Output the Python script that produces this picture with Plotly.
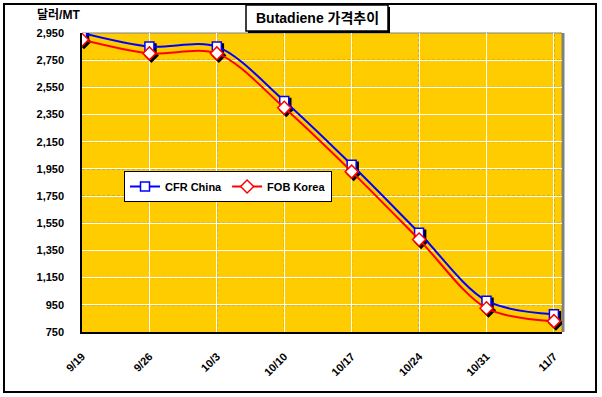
import plotly.graph_objects as go

dates = ["9/19", "9/26", "10/3", "10/10", "10/17", "10/24", "10/31", "11/7"]
cfr_china = [2950, 2850, 2850, 2450, 1980, 1480, 980, 880]
fob_korea = [2900, 2800, 2800, 2400, 1930, 1430, 925, 830]
y_ticks = list(range(750, 2951, 200))

W, H = 602, 397
L, R, T, B = 82, 562, 33, 332  # plot area in pixels
XR = [0, 7.12]
YR = [750, 2950]


def px(x):
    return (x - L) / (R - L)


def py(y):
    return (B - y) / (B - T)


FONT = "Liberation Sans, Arial, Noto Sans CJK KR"
xs = list(range(len(dates)))

# shadow offset (2px right, 2px down) expressed as range shift
dx = 2 / (R - L) * (XR[1] - XR[0])
dy = 2 / (B - T) * (YR[1] - YR[0])

fig = go.Figure()
# marker shadows
fig.add_trace(go.Scatter(
    x=xs, y=cfr_china, mode="markers", showlegend=False, hoverinfo="skip",
    xaxis="x2", yaxis="y2",
    marker=dict(symbol="square", size=9, color="black", line=dict(color="black", width=1.5)),
))
fig.add_trace(go.Scatter(
    x=xs, y=fob_korea, mode="markers", showlegend=False, hoverinfo="skip",
    xaxis="x2", yaxis="y2",
    marker=dict(symbol="diamond", size=10, color="black", line=dict(color="black", width=1.5)),
))
# main series
fig.add_trace(go.Scatter(
    x=xs, y=cfr_china, name="CFR China", mode="lines+markers", xaxis="x3", yaxis="y3",
    line=dict(color="rgb(0,0,255)", width=2, shape="spline", smoothing=0.9),
    marker=dict(symbol="square", size=9, color="white", line=dict(color="rgb(0,0,255)", width=1.5)),
))
fig.add_trace(go.Scatter(
    x=xs, y=fob_korea, name="FOB Korea", mode="lines+markers", xaxis="x3", yaxis="y3",
    line=dict(color="rgb(255,0,0)", width=2, shape="spline", smoothing=0.9),
    marker=dict(symbol="diamond", size=10, color="white", line=dict(color="rgb(255,0,0)", width=1.5)),
))

hidden = dict(visible=False, showgrid=False, zeroline=False, automargin=False)

fig.update_layout(
    width=W, height=H,
    margin=dict(l=L, r=W - R, t=T, b=H - B, autoexpand=False),
    paper_bgcolor="white",
    plot_bgcolor="rgb(255,204,0)",
    font=dict(family=FONT, size=11, color="black"),
    showlegend=True,
    legend=dict(
        orientation="h", x=px(124), y=py(171), xanchor="left", yanchor="top",
        bgcolor="white", bordercolor="black", borderwidth=1,
        font=dict(family=FONT, size=11, color="black", weight="bold"),
        itemwidth=30, tracegroupgap=0,
    ),
    xaxis=dict(
        range=XR, tickmode="array", tickvals=xs, ticktext=dates,
        tickangle=-45, showgrid=True, gridcolor="white", gridwidth=1,
        showline=True, linecolor="black", linewidth=1.5, ticks="", zeroline=False, automargin=False,
        tickfont=dict(family=FONT, size=11, weight="bold"), ticklabelstandoff=12,
    ),
    yaxis=dict(
        range=YR, tickmode="array", tickvals=y_ticks,
        ticktext=[f"{v:,}" for v in y_ticks],
        showgrid=True, gridcolor="white", gridwidth=1,
        showline=True, linecolor="black", linewidth=1.5, ticks="", zeroline=False, automargin=False,
        tickfont=dict(family=FONT, size=11, weight="bold"), ticklabelstandoff=14,
    ),
    xaxis2=dict(overlaying="x", anchor="y2", range=[XR[0] - dx, XR[1] - dx], **hidden),
    yaxis2=dict(overlaying="y", anchor="x2", range=[YR[0] + dy, YR[1] + dy], **hidden),
    xaxis3=dict(overlaying="x", anchor="y3", range=XR, **hidden),
    yaxis3=dict(overlaying="y", anchor="x3", range=YR, **hidden),
)

shapes = [
    # outer frame
    dict(type="rect", xref="paper", yref="paper", x0=px(4), x1=px(596), y0=py(392), y1=py(4),
         line=dict(color="black", width=2), layer="below"),
    # plot area top / right gray edges
    dict(type="line", xref="paper", yref="paper", x0=0, x1=1, y0=1, y1=1,
         line=dict(color="rgb(128,128,128)", width=1), layer="between"),
    dict(type="line", xref="paper", yref="paper", x0=px(563), x1=px(563), y0=0, y1=1,
         line=dict(color="rgb(128,128,128)", width=3), layer="below"),
    # title box shadow
    dict(type="rect", xref="paper", yref="paper", x0=px(248), x1=px(390), y0=py(33), y1=py(7),
         line=dict(width=0), fillcolor="black", layer="above"),
    dict(type="rect", xref="paper", yref="paper", x0=px(246), x1=px(388), y0=py(31), y1=py(5),
         line=dict(color="black", width=1.5), fillcolor="white", layer="above"),
]
# gray dashes over white gridlines
for xv in xs[1:]:
    shapes.append(dict(type="line", xref="x", yref="paper", x0=xv, x1=xv, y0=0, y1=1,
                       line=dict(color="rgb(128,128,128)", width=1, dash="3px,2px"), layer="between"))
for yv in y_ticks[1:-1]:
    shapes.append(dict(type="line", xref="paper", yref="y", x0=0, x1=1, y0=yv, y1=yv,
                       line=dict(color="rgb(128,128,128)", width=1, dash="3px,2px"), layer="between"))
fig.update_layout(shapes=shapes)

fig.add_annotation(
    x=px(317), y=py(18), xref="paper", yref="paper", xanchor="center", yanchor="middle",
    text="<b>Butadiene 가격추이</b>", showarrow=False,
    font=dict(family=FONT, size=14, color="black"),
)
fig.add_annotation(
    x=px(35), y=py(15), xref="paper", yref="paper", xanchor="left", yanchor="middle",
    text="<b>달러/MT</b>", showarrow=False,
    font=dict(family=FONT, size=12, color="black"),
)

fig.write_html("out.html", config={"displayModeBar": False},
               post_script="document.body.style.margin='0';document.body.style.overflow='hidden';")
